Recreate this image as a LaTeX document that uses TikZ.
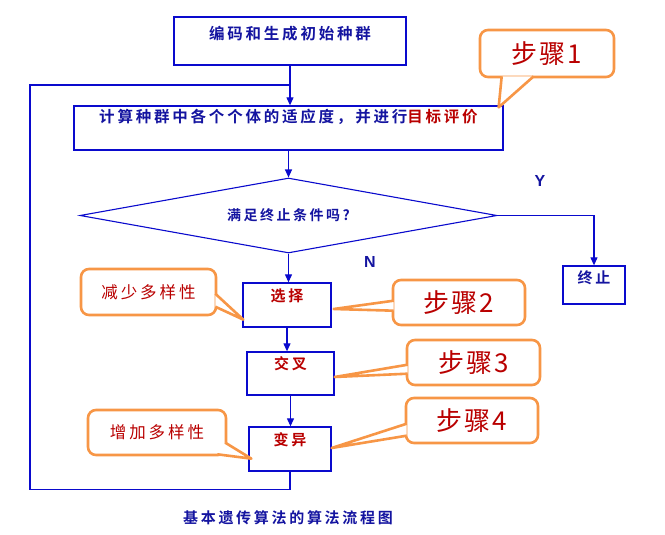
\documentclass[tikz,border=0pt]{standalone}
\usepackage{fontspec}
\usepackage{tikz}
\usetikzlibrary{arrows.meta,positioning,shapes.geometric}
\newfontfamily\cjk[LetterSpace=18,BoldFont={Noto Sans CJK SC Bold}]{Noto Sans CJK SC}
\newfontfamily\cjkstep[LetterSpace=8]{Noto Sans CJK SC}
\newfontfamily\arial{Liberation Sans}
\definecolor{flowblue}{RGB}{10,10,205}
\definecolor{textblue}{RGB}{20,20,160}
\definecolor{stepred}{RGB}{185,0,0}
\definecolor{calloutorange}{RGB}{247,150,70}

\begin{document}
\begin{tikzpicture}[x=1pt, y=-1pt,
  flowbox/.style={draw=flowblue, line width=1.3pt, fill=white, inner sep=0pt, text=textblue, font=\cjk\bfseries\fontsize{15.5}{18}\selectfont},
  flowline/.style={draw=flowblue, line width=1.1pt},
  arr/.style={flowline, -{Triangle[length=8pt,width=7pt]}},
  callout/.style={draw=calloutorange, line width=2.6pt, rounded corners=8pt, fill=white, inner sep=0pt, text=stepred},
  pointer/.style={draw=calloutorange, line width=2.6pt, fill=white, line join=round}]
 \useasboundingbox (0,0) rectangle (665,535);

 % main flow
 \node[flowbox, minimum width=232pt, text height=22.5pt, text depth=25.5pt] (init) at (290,41) {编码和生成初始种群};
 \node[flowbox, minimum width=429pt, text height=16.5pt, text depth=27.5pt] (eval) at (288.5,128) {计算种群中各个个体的适应度，并进行\textcolor{stepred}{目标评价}};
 \node[draw=flowblue, line width=1.1pt, shape=diamond, aspect=5.5, minimum width=417pt, minimum height=75pt, inner sep=0pt, text=textblue, font=\cjk\bfseries\fontsize{14}{16}\selectfont] (cond) at (288.5,215.5) {满足终止条件吗?};
 \node[flowbox, minimum width=62pt, text height=17.5pt, text depth=20.5pt, font=\cjk\bfseries\fontsize{15}{16}\selectfont] (stop) at (594,285) {终止};
 \node[flowbox, text=stepred, minimum width=88pt, text height=18.5pt, text depth=25.5pt, font=\cjk\bfseries\fontsize{15}{16}\selectfont] (sel) at (287,305) {选择};
 \node[flowbox, text=stepred, minimum width=87pt, text height=17.5pt, text depth=25.5pt, font=\cjk\bfseries\fontsize{15}{16}\selectfont] (cross) at (290.5,373.5) {交叉};
 \node[flowbox, text=stepred, minimum width=82pt, text height=18.5pt, text depth=25.5pt, font=\cjk\bfseries\fontsize{15}{16}\selectfont] (mut) at (290,449) {变异};

 \node[text=textblue, font=\arial\bfseries\fontsize{16}{18}\selectfont] (yes) at (540,181) {Y};
 \node[text=textblue, font=\arial\bfseries\fontsize{16}{18}\selectfont] (no) at (370,262) {N};
 \node[text=textblue, font=\cjk\bfseries\fontsize{15}{17}\selectfont] (caption) at (288,518) {基本遗传算法的算法流程图};

 \draw[arr] (init.south) -- (init.south |- eval.north);
 \draw[arr] (eval.south) -- (eval.south |- cond.north);
 \draw[arr] (cond.east) -| (stop.north);
 \draw[arr] (cond.south) -- (cond.south |- sel.north);
 \draw[arr] (sel.south) -- (sel.south |- cross.north);
 \draw[arr] (cross.south) -- (cross.south |- mut.north);
 \coordinate (loopturn) at (30,85);
 \draw[flowline] (mut.south) -- ++(0,18) -| (loopturn) -- (loopturn -| init.south);

 % callouts
 \node[callout, minimum width=134pt, minimum height=47pt, font=\cjkstep\fontsize{26}{30}\selectfont] (step1) at (547,53.5) {步骤1};
 \draw[pointer] ([xshift=23pt,yshift=2pt]step1.south west) -- ([xshift=-5pt,yshift=-2pt]eval.north east) -- ([xshift=55pt,yshift=2pt]step1.south west);
 \node[callout, minimum width=132pt, minimum height=45pt, font=\cjkstep\fontsize{26}{30}\selectfont] (step2) at (459,302.5) {步骤2};
 \draw[pointer] ([xshift=2pt,yshift=-22pt]step2.north west) -- ([xshift=2pt,yshift=-4pt]sel.east) -- ([xshift=2pt,yshift=-32pt]step2.north west);
 \node[callout, minimum width=133pt, minimum height=45pt, font=\cjkstep\fontsize{26}{30}\selectfont] (step3) at (473.5,362.5) {步骤3};
 \draw[pointer] ([xshift=2pt,yshift=-26pt]step3.north west) -- ([yshift=-3.5pt]cross.east) -- ([xshift=2pt,yshift=-35pt]step3.north west);
 \node[callout, minimum width=132pt, minimum height=45pt, font=\cjkstep\fontsize{26}{30}\selectfont] (step4) at (472,420.5) {步骤4};
 \draw[pointer] ([xshift=2pt,yshift=-27pt]step4.north west) -- ([yshift=1pt]mut.east) -- ([xshift=2pt,yshift=-39pt]step4.north west);
 \node[callout, minimum width=135pt, minimum height=46pt, font=\cjk\fontsize{16.5}{18}\selectfont] (less) at (148.5,292) {减少多样性};
 \draw[pointer] ([xshift=-2pt,yshift=-26pt]less.north east) -- ([xshift=1pt,yshift=8pt]sel.south west) -- ([xshift=-2pt,yshift=-39pt]less.north east);
 \node[callout, minimum width=138pt, minimum height=45pt, font=\cjk\fontsize{16.5}{18}\selectfont] (more) at (157,432.5) {增加多样性};
 \draw[pointer] ([xshift=-2pt,yshift=-34pt]more.north east) -- ([xshift=3pt,yshift=13pt]mut.south west) -- ([xshift=-10pt,yshift=2pt]more.south east);
\end{tikzpicture}
\end{document}
